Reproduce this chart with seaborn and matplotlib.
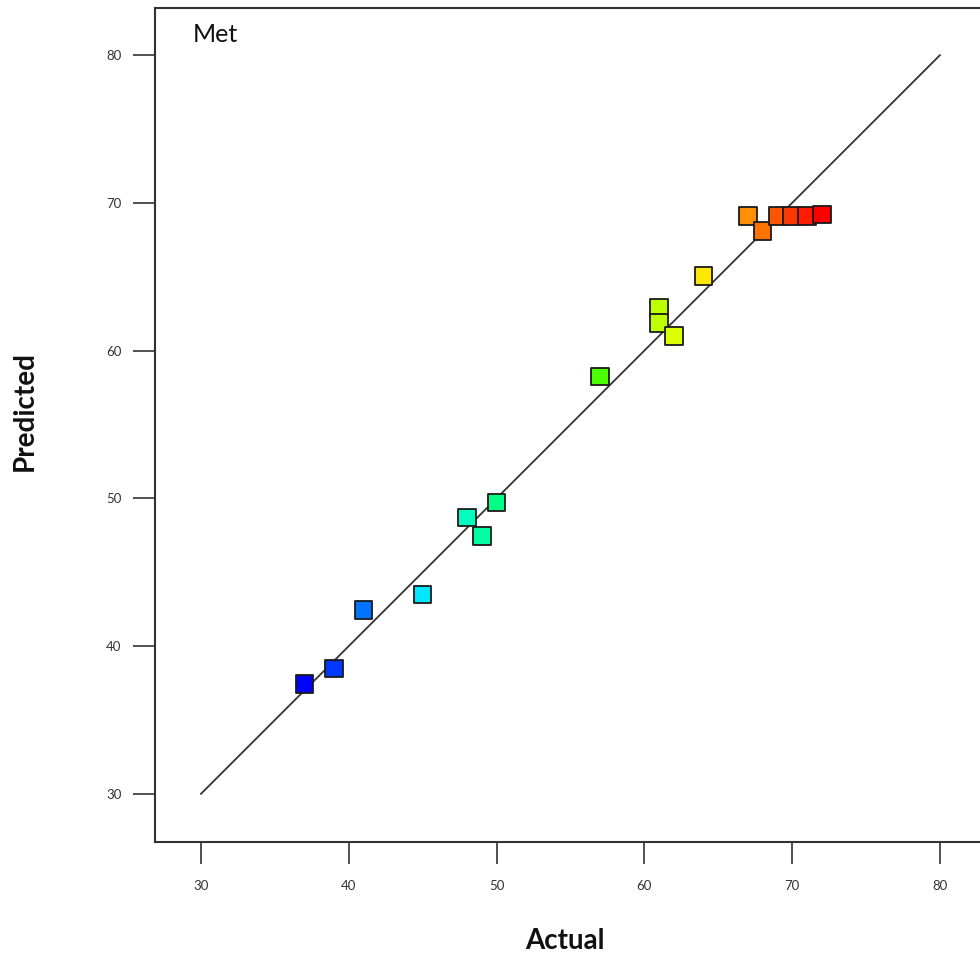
import colorsys
import matplotlib
matplotlib.use("Agg")
import matplotlib.pyplot as plt
from matplotlib.colors import ListedColormap
import numpy as np
import pandas as pd
import seaborn as sns

# ---- data ----
actual = [37, 39, 41, 45, 48, 49, 50, 57, 61, 61, 62, 64, 67, 68, 69, 70, 71, 72]
predicted = [37.43, 38.5, 42.43, 43.5, 48.7, 47.45, 49.73, 58.26, 62.9, 61.85, 61.0,
             65.05, 69.1, 68.1, 69.1, 69.1, 69.1, 69.22]
ref_line = [30, 80]
x_ticks = [30, 40, 50, 60, 70, 80]
y_ticks = [30, 40, 50, 60, 70, 80]
title_text = "Met"
x_label = "Actual"
y_label = "Predicted"

df = pd.DataFrame({"Actual": actual, "Predicted": predicted})

# rainbow colormap blue -> red (Design-Expert style)
cols = [colorsys.hsv_to_rgb((240 - 240 * t) / 360.0, 1.0, 1.0) for t in np.linspace(0, 1, 256)]
rainbow = ListedColormap(cols)

sns.set_theme(style="white")
plt.rcParams["font.family"] = ["Lato", "DejaVu Sans"]

fig = plt.figure(figsize=(9.8, 9.61), dpi=100)
W, H = 980, 961
left, right, top, bottom = 155, 980, 8, 842
ax = fig.add_axes([left / W, 1 - bottom / H, (right - left) / W, (bottom - top) / H])

ax.plot(ref_line, ref_line, color="#333333", lw=1.3, zorder=1)

sns.scatterplot(data=df, x="Actual", y="Predicted", hue="Actual", palette=rainbow,
                hue_norm=(min(actual), max(actual)), marker="s", s=160,
                edgecolor="#1a1a1a", linewidth=1.3, legend=False, ax=ax, zorder=3)

ax.set_xlim(26.9, 82.7)
ax.set_ylim(26.75, 83.18)
ax.set_xticks(x_ticks)
ax.set_yticks(y_ticks)
ax.set_xticklabels([str(v) for v in x_ticks])
ax.set_yticklabels([str(v) for v in y_ticks])

for side in ["left", "bottom", "top"]:
    ax.spines[side].set_visible(True)
    ax.spines[side].set_color("#333333")
    ax.spines[side].set_linewidth(1.5)
ax.spines["right"].set_visible(False)

ax.tick_params(axis="both", which="major", direction="out", length=16, width=1.2,
               color="#333333", labelsize=9.5, labelcolor="#333333",
               bottom=True, left=True, top=False, right=False)
ax.tick_params(axis="x", pad=11)
ax.tick_params(axis="y", pad=8)

ax.set_xlabel(x_label, fontsize=20, fontweight="bold", color="#111111")
ax.set_ylabel(y_label, fontsize=20, fontweight="bold", color="#111111")
ax.xaxis.set_label_coords(0.497, -0.103)
ax.yaxis.set_label_coords(-0.142, 0.517)

ax.text(0.046, 0.982, title_text, transform=ax.transAxes, ha="left", va="top",
        fontsize=18, color="#111111")

ax.grid(False)
fig.savefig("out.png", dpi=100, facecolor="white")
